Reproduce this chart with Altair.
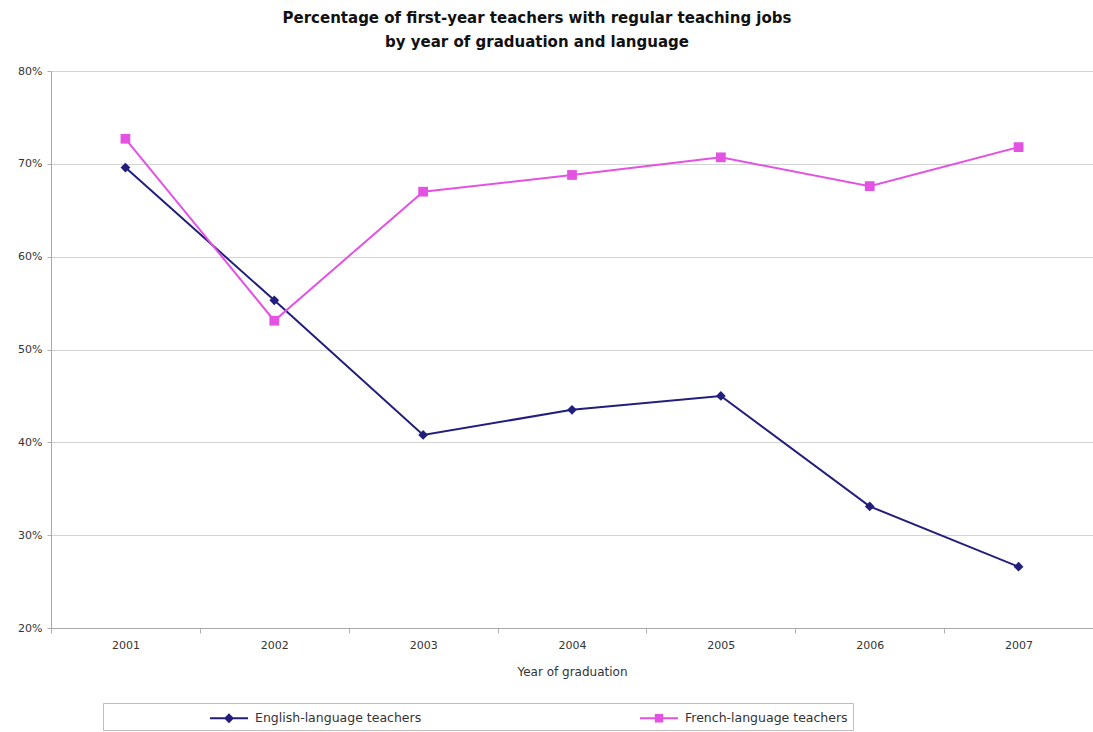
import altair as alt
import pandas as pd

# Chart data
years = ["2001", "2002", "2003", "2004", "2005", "2006", "2007"]
series_names = ["English-language teachers", "French-language teachers"]
english = [0.696, 0.553, 0.408, 0.435, 0.450, 0.331, 0.266]
french = [0.727, 0.531, 0.670, 0.688, 0.707, 0.676, 0.718]
series_colors = ["#221e7c", "#e452e4"]
y_ticks = [0.2, 0.3, 0.4, 0.5, 0.6, 0.7, 0.8]

rows = []
for name, vals in zip(series_names, [english, french]):
    for yr, v in zip(years, vals):
        rows.append({"year": yr, "series": name, "value": v})
df = pd.DataFrame(rows)

FONT = "DejaVu Sans"

# Legend symbols: a line segment with the series marker on it, set in from
# the left edge of the legend frame.
legend_shapes = [
    "M-1,0h0.01v0.01ZM9.2,-0.11H13V0.11H9.2ZM11.1,-0.5L11.6,0L11.1,0.5L10.6,0Z",
    "M-1,0h0.01v0.01ZM9.2,-0.11H13V0.11H9.2ZM10.68,-0.42H11.52V0.42H10.68Z",
]

# Blank room after the last entry so the frame reaches its full width
NBSP = "\u2007"
label_expr = (
    f"datum.value == '{series_names[1]}' ? datum.label + '{NBSP * 16}' : datum.label"
)

legend = alt.Legend(
    title=None,
    orient="none",
    legendX=52,
    legendY=632,
    direction="horizontal",
    columns=2,
    columnPadding=116,
    padding=5,
    strokeColor="#bdbdbd",
    fillColor="white",
    labelFont=FONT,
    labelFontSize=12.5,
    labelColor="#333333",
    labelLimit=600,
    labelOffset=127,
    labelExpr=label_expr,
    symbolSize=400,
    symbolStrokeWidth=0,
)

color = alt.Color(
    "series:N",
    scale=alt.Scale(domain=series_names, range=series_colors),
    legend=legend,
)

x_enc = alt.X(
    "year:O",
    scale=alt.Scale(type="band", paddingInner=0, paddingOuter=0),
    bandPosition=0.5,
    axis=alt.Axis(
        title="Year of graduation",
        labelAngle=0,
        tickBand="extent",
        tickSize=5,
        tickColor="#b0b0b0",
        domainColor="#a8a8a8",
        labelFont=FONT,
        labelFontSize=11,
        labelColor="#333333",
        labelPadding=6,
        titleFont=FONT,
        titleFontSize=12,
        titleFontWeight="normal",
        titleColor="#333333",
        titlePadding=16,
        grid=False,
    ),
)

y_enc = alt.Y(
    "value:Q",
    scale=alt.Scale(domain=[0.2, 0.8], nice=False, zero=False),
    axis=alt.Axis(
        title=None,
        format=".0%",
        values=y_ticks,
        grid=True,
        gridColor="#d4d4d4",
        domainColor="#a8a8a8",
        tickColor="#b0b0b0",
        tickSize=4,
        labelPadding=5,
        labelFont=FONT,
        labelFontSize=11,
        labelColor="#333333",
    ),
)

base = alt.Chart(df)

lines = base.mark_line(strokeWidth=2).encode(x=x_enc, y=y_enc, color=color)

eng_pts = base.transform_filter(
    alt.datum.series == series_names[0]
).mark_point(shape="diamond", filled=True, size=95, opacity=1).encode(
    x=x_enc, y=y_enc, color=color
)

fr_pts = base.transform_filter(
    alt.datum.series == series_names[1]
).mark_point(shape="square", filled=True, size=95, opacity=1).encode(
    x=x_enc, y=y_enc, color=color
)

# Layer that only feeds the legend its line-and-marker symbols
legend_layer = base.transform_filter("false").mark_point(filled=True, opacity=1).encode(
    color=color,
    shape=alt.Shape(
        "series:N",
        scale=alt.Scale(domain=series_names, range=legend_shapes),
        legend=legend,
    ),
)

chart = (
    alt.layer(lines, eng_pts, fr_pts, legend_layer)
    .properties(
        width=1042,
        height=557,
        autosize=alt.AutoSizeParams(type="none"),
        padding={"left": 51, "top": 71, "right": 0, "bottom": 104},
        title=alt.TitleParams(
            text=[
                "Percentage of first-year teachers with regular teaching jobs",
                "by year of graduation and language",
            ],
            font=FONT,
            fontSize=15,
            fontWeight="bold",
            color="#111111",
            anchor="middle",
            dx=-35,
            lineHeight=24,
            offset=15,
        ),
    )
    .configure_view(stroke=None)
    .configure(background="white")
)

chart.save("out.html", embed_options={"renderer": "svg", "actions": False})
